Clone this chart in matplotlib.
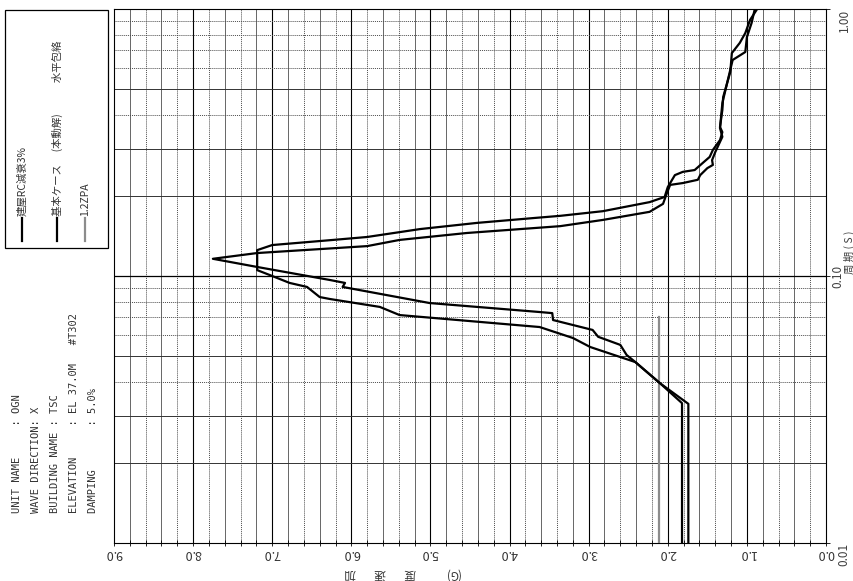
import numpy as np
import matplotlib.pyplot as plt
import matplotlib.transforms as mtransforms
from matplotlib.patches import Rectangle
from matplotlib.lines import Line2D

plt.rcParams['font.family'] = ['Noto Sans CJK JP', 'DejaVu Sans']

W, H = 854, 581

period_a = [0.0100, 0.0334, 0.0397, 0.0476, 0.0506, 0.0552, 0.0592, 0.0628, 0.0684, 0.0726,
            0.0733, 0.0792, 0.0910, 0.0942, 0.0966, 0.1081, 0.1160, 0.1219, 0.1294, 0.1365,
            0.1449, 0.1537, 0.1622, 0.1739, 0.1863, 0.2047, 0.2194, 0.2229, 0.2293, 0.2387,
            0.2535, 0.2606, 0.2716, 0.2911, 0.3322, 0.3581, 0.4446, 0.5917, 0.6442, 0.6902,
            0.7848, 0.8874, 1.0000]
accel_a = [1.82, 1.82, 2.10, 2.41, 2.52, 2.60, 2.88, 2.95, 3.45, 3.46,
           3.62, 5.01, 6.11, 6.08, 6.27, 7.19, 7.75, 7.19, 5.80, 5.39,
           4.54, 3.36, 2.82, 2.23, 2.06, 2.01, 1.97, 1.81, 1.62, 1.59,
           1.50, 1.43, 1.44, 1.40, 1.31, 1.34, 1.31, 1.21, 1.18, 1.02,
           1.00, 0.94, 0.90]

period_b = [0.0100, 0.0332, 0.0397, 0.0476, 0.0542, 0.0586, 0.0644, 0.0714, 0.0766, 0.0820,
            0.0834, 0.0910, 0.0942, 0.1008, 0.1052, 0.1250, 0.1306, 0.1365, 0.1400, 0.1499,
            0.1581, 0.1648, 0.1680, 0.1749, 0.1891, 0.1977, 0.2153, 0.2387, 0.2455, 0.2494,
            0.2648, 0.2793, 0.2966, 0.3228, 0.3458, 0.3613, 0.4188, 0.4677, 0.5808, 0.6839,
            0.7464, 0.8128, 0.9100, 1.0000]
accel_b = [1.74, 1.74, 2.10, 2.41, 2.98, 3.20, 3.62, 5.39, 5.64, 6.27,
           6.40, 6.56, 6.78, 7.03, 7.19, 7.19, 7.00, 6.23, 5.80, 5.13,
           4.41, 3.70, 3.36, 2.82, 2.23, 2.04, 2.00, 1.91, 1.81, 1.66,
           1.56, 1.47, 1.43, 1.34, 1.31, 1.34, 1.31, 1.30, 1.21, 1.19,
           1.09, 1.02, 0.96, 0.87]

zpa_period = [0.01, 0.070]
zpa_accel = [2.11, 2.11]

labels = ['建屋RC減衰3%', '基本ケース\u3000 (本動解)\u3000\u3000\u3000水平包絡', '1.2ZPA']
colors = ['black', 'black', '0.55']

info_lines = ['UNIT NAME     : OGN',
              'WAVE DIRECTION: X',
              'BUILDING NAME : TSC',
              'ELEVATION     : EL 37.0M   #T302',
              'DAMPING       : 5.0%']

accel_ticks = np.arange(0, 10, 1.0)
period_ticks = [0.01, 0.1, 1.0]
period_ticklabels = ['0.01', '0.10', '1.00']


def fx(x):
    return x / W


def fy(y):
    return 1 - y / H


fig = plt.figure(figsize=(W / 100, H / 100), dpi=100)
ax = fig.add_axes([fx(114), fy(543), (826 - 114) / W, (543 - 9) / H])

# grid, drawn by hand so line styles can vary like the scan
for v in np.round(np.arange(0.2, 9.0, 0.2), 1):
    if abs(v - round(v)) < 1e-6:
        ax.axvline(v, color='black', lw=0.8, zorder=1)
    elif int(round(v * 5)) % 2 == 0:
        ax.axvline(v, color='0.3', lw=0.6, zorder=1)
    else:
        ax.axvline(v, color='0.3', lw=0.7, ls=(0, (1, 1)), zorder=1)
for dec in [0.01, 0.1]:
    for k in range(2, 10):
        v = dec * k
        if k in (2, 3, 5):
            ax.axhline(v, color='0.2', lw=0.7, zorder=1)
        else:
            ax.axhline(v, color='0.3', lw=0.7, ls=(0, (1, 1)), zorder=1)
ax.axhline(0.1, color='black', lw=0.9, zorder=1)

ax.plot(zpa_accel, zpa_period, color=colors[2], lw=1.6, zorder=3)
ax.plot(accel_b, period_b, color=colors[1], lw=1.6, zorder=4)
ax.plot(accel_a, period_a, color=colors[0], lw=1.6, zorder=4)

ax.set_yscale('log')
ax.set_ylim(0.01, 1.0)
ax.set_xlim(9.0, 0.0)

for s in ax.spines.values():
    s.set_linewidth(0.8)
    s.set_color('black')

ax.set_xticks(accel_ticks)
ax.set_xticklabels(['%.1f' % v for v in accel_ticks], rotation=180,
                   fontsize=9, color='0.2')
ax.set_xticks(np.arange(0, 9.01, 0.2), minor=True)
ax.tick_params(axis='x', which='both', direction='inout', length=4, width=0.6, pad=1)

# period ticks on the right, labels placed by hand (rotated sheet)
ax.yaxis.tick_right()
ax.set_yticks(period_ticks)
ax.set_yticklabels([])
ax.yaxis.set_minor_locator(plt.NullLocator())
ax.tick_params(axis='y', which='both', direction='out', length=3, width=0.6)
ytrans = mtransforms.blended_transform_factory(fig.transFigure, ax.transData)
for t, lab, x, va in zip(period_ticks, period_ticklabels, [844, 838, 844],
                         ['top', 'center', 'top']):
    ax.text(fx(x), t, lab, transform=ytrans, rotation=90, ha='center', va=va,
            fontsize=8.5, color='0.25', clip_on=False)

# axis titles (drawn rotated like the scanned sheet)
for ch, x in zip(['加', '速', '度', '(G)'], [350, 380, 410, 452]):
    fig.text(fx(x), fy(574), ch, rotation=180, ha='center', va='center',
             fontsize=8.5, color='0.2')
fig.text(fx(849), fy(252), '周 期 ( S )', rotation=90, ha='center', va='center',
         fontsize=7.5, color='0.25')

# header block
for line, x in zip(info_lines, [17, 36, 55, 74, 93]):
    fig.text(fx(x), fy(513), line, rotation=90, ha='center', va='bottom',
             family='DejaVu Sans Mono', fontsize=7.5, color='0.2')

# legend box
fig.add_artist(Rectangle((fx(5), fy(248)), (108 - 5) / W, (248 - 10) / H,
                         transform=fig.transFigure, fill=False, ec='black', lw=0.9))
for lab, col, x in zip(labels, colors, [22, 57, 85]):
    fig.add_artist(Line2D([fx(x), fx(x)], [fy(241), fy(218)], transform=fig.transFigure,
                          color=col, lw=1.6))
    fig.text(fx(x), fy(216), lab, rotation=90, ha='center', va='bottom',
             fontsize=7.5, color='0.2')

fig.savefig('out.png', dpi=100, facecolor='white')
